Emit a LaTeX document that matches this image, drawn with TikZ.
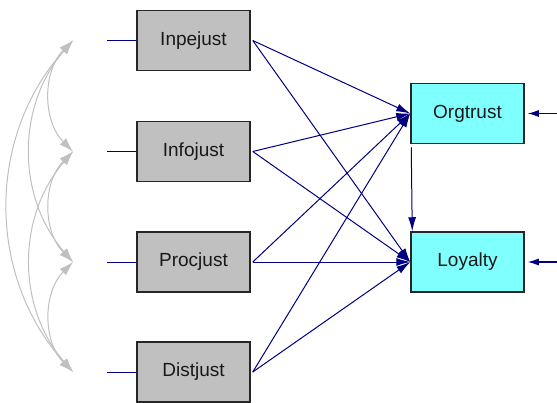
\documentclass[tikz,border=0pt]{standalone}
\usepackage{fontspec}
\setmainfont{Liberation Sans}
\usetikzlibrary{arrows.meta}
\definecolor{navy}{RGB}{0,0,128}
\definecolor{boxgray}{RGB}{192,192,192}
\definecolor{aqua}{RGB}{128,255,255}
\definecolor{arcgray}{RGB}{192,192,192}
\begin{document}
\begin{tikzpicture}[x=1pt,y=-1pt,
  obs/.style={draw=black!85, line width=1.5pt, minimum width=113pt, minimum height=60pt, inner sep=0pt, font=\fontsize{19}{22}\selectfont, text=black!90},
  exo/.style={obs, fill=boxgray},
  endo/.style={obs, fill=aqua},
  regpath/.style={draw=navy, line width=1pt, -{Latex[length=14pt,width=8pt]}},
  errpath/.style={draw=navy, line width=1.2pt, -{Latex[length=11pt,width=7pt]}},
  cov/.style={draw=arcgray, line width=1pt, {Latex[length=14pt,width=9pt]}-{Latex[length=14pt,width=9pt]}},
  link/.style={draw=navy, line width=1pt}]
\useasboundingbox (0,0) rectangle (557,402);
\node[exo] (inpe) at (193.5,40.5) {Inpejust};
\node[exo] (info) at (193.5,151.5) {Infojust};
\node[exo] (proc) at (193.5,262) {Procjust};
\node[exo] (dist) at (193.5,372) {Distjust};
\node[endo] (org) at (467.5,113.5) {Orgtrust};
\node[endo] (loy) at (467.5,262) {Loyalty};
% covariance ends
\coordinate (c1) at (73,40.5);
\coordinate (c2) at (73,151.5);
\coordinate (c3) at (73,262);
\coordinate (c4) at (73,372);
\coordinate (e1) at (107,40.5);
\coordinate (e2) at (107,151.5);
\coordinate (e3) at (107,262);
\coordinate (e4) at (107,372);
\draw[link] (e1) -- (inpe.west);
\draw[link] (e2) -- (info.west);
\draw[link] (e3) -- (proc.west);
\draw[link] (e4) -- (dist.west);
\draw[cov] (c1) to[bend right=45] (c2);
\draw[cov] (c2) to[bend right=45] (c3);
\draw[cov] (c3) to[bend right=45] (c4);
\draw[cov] (c1) to[bend right=41] (c3);
\draw[cov] (c2) to[bend right=41] (c4);
\draw[cov] (c1) to[bend right=42] (c4);
% regressions
\foreach \s in {inpe,info,proc,dist}{
  \draw[regpath] ([xshift=2pt]\s.east) -- (org.west);
  \draw[regpath] ([xshift=2pt]\s.east) -- (loy.west);
}
\draw[regpath] ([shift={(1pt,-3pt)}]org.south west) -- ([xshift=2pt]loy.north west);
% errors
\coordinate (u1) at (557,113.5);
\coordinate (u2) at (557,262);
\draw[errpath] (u1) -- ([xshift=3pt]org.east);
\draw[errpath] (u2) -- ([xshift=3pt]loy.east);
\end{tikzpicture}
\end{document}
